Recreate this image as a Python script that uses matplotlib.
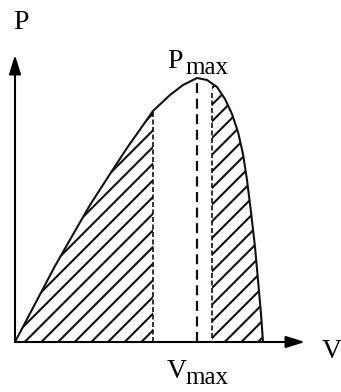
import numpy as np
import matplotlib
matplotlib.use("Agg")
import matplotlib.pyplot as plt

plt.rcParams['font.family'] = ['Liberation Serif', 'DejaVu Serif']
plt.rcParams['hatch.linewidth'] = 1.5

# Curve (V, P in arbitrary units)
V = [0, 20, 40, 60, 75, 95, 112, 138, 155, 168, 182, 192, 202, 210, 217, 223, 228, 232, 236, 240, 243, 246, 248]
P = [0, 38, 76, 111, 137, 168, 194, 231, 247, 257, 264, 262, 255, 243, 228, 210, 188, 162, 130, 95, 62, 28, 0]

V_left = 138    # end of left hatched region
V_peak = 182    # V at P_max
V_right = 197   # start of right hatched region
V_axis_end = 290
P_axis_end = 287

V = np.array(V, float)
P = np.array(P, float)

fig = plt.figure(figsize=(3.41, 3.92), dpi=100)
ax = fig.add_axes([0, 0, 1, 1])
ax.set_xlim(-15, 326)
ax.set_ylim(-50, 342)
ax.axis('off')

# hatched regions
pl = np.interp(V_left, V, P)
m = V <= V_left
ax.fill(np.r_[V[m], V_left, V_left], np.r_[P[m], pl, 0], facecolor='none',
        edgecolor='#111111', hatch='//', linewidth=0)
pr = np.interp(V_right, V, P)
m = V >= V_right
ax.fill(np.r_[V_right, V_right, V[m]], np.r_[0, pr, P[m]], facecolor='none',
        edgecolor='#111111', hatch='//', linewidth=0)

# curve
ax.plot(V, P, color='#111111', lw=1.5, solid_capstyle='round')

# dashed lines
pk = P.max()
ax.plot([V_peak, V_peak], [0, pk], color='#111111', lw=1.6, dashes=(4.5, 2.5))
ax.plot([V_left, V_left], [0, pl], color='#111111', lw=1.2, dashes=(3, 1.5))
ax.plot([V_right, V_right], [4, pr - 8], color='#111111', lw=1.2, dashes=(3, 1.5))

# axes arrows
arrow = dict(arrowstyle='-|>,head_length=1.15,head_width=0.36', color='black',
             lw=1.5, mutation_scale=10, shrinkA=0, shrinkB=0)
ax.annotate('', xy=(V_axis_end, 0), xytext=(0, 0), arrowprops=arrow)
ax.annotate('', xy=(0, P_axis_end), xytext=(0, 0), arrowprops=arrow)

# labels
fs = 20
fss = 18
ax.text(-2, 313, 'P', fontsize=fs, ha='left', va='baseline')
ax.text(307, -16, 'V', fontsize=fs, ha='left', va='baseline')
ax.text(152, 274, 'P', fontsize=fs, ha='left', va='baseline')
ax.text(170, 268, 'max', fontsize=fss, ha='left', va='baseline')
ax.text(152, -36, 'V', fontsize=fs, ha='left', va='baseline')
ax.text(170, -42, 'max', fontsize=fss, ha='left', va='baseline')

fig.savefig('out.png', dpi=100)
